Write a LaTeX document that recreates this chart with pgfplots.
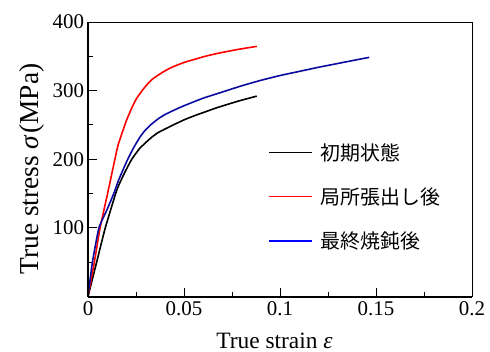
\documentclass[border=0pt]{standalone}
\usepackage{fontspec}
\setmainfont{Liberation Serif}
\newfontfamily\cjk{Noto Sans CJK JP}
\usepackage{pgfplots}
\pgfplotsset{compat=1.18}
\definecolor{cblue}{RGB}{10,10,160}
\begin{document}
\begin{tikzpicture}
\path[use as bounding box] (-88bp,-55.5bp) rectangle (402bp,296.5bp);
\begin{axis}[
  scale only axis,
  width=384bp, height=274.5bp,
  xmin=0, xmax=0.2, ymin=0, ymax=400,
  axis line style={line width=0.9bp},
  tick pos=left, tick align=inside,
  xtick={0,0.05,0.1,0.15,0.2},
  xticklabels={0,0.05,0.1,0.15,0.2},
  ytick={0,100,200,300,400},
  yticklabels={,100,200,300,400},
  minor x tick num=1, minor y tick num=1,
  major tick length=9bp, minor tick length=5bp,
  every tick/.style={line width=0.9bp, black},
  /pgf/number format/assume math mode=true,
  every tick label/.append style={font=\rmfamily\fontsize{21}{21}\selectfont},
  xticklabel style={yshift=-2bp},
  yticklabel style={xshift=-0.5bp},
  xlabel={True strain {\itshape ε}},
  ylabel={True stress {\itshape σ}\kern2bp(MPa)},
  xlabel style={font=\rmfamily\fontsize{23.5}{23.5}\selectfont, at={(axis description cs:0.4857,-0.1887)}, anchor=base},
  ylabel style={font=\rmfamily\fontsize{27.5}{27.5}\selectfont, at={(axis description cs:-0.130,0.4645)}, anchor=base, rotate=0},
  legend style={draw=none, fill=none, at={(axis description cs:0.461,0.3636)}, anchor=west,
    font=\fontsize{20}{20}\selectfont\cjk, nodes={inner sep=0pt}, column sep=8bp, row sep=26bp},
  legend cell align=left,
  legend image code/.code={\draw[#1] (0bp,0bp) -- (43bp,0bp);},
  after end axis/.code={
    \draw[line width=2.6bp] (rel axis cs:0,0) -- (rel axis cs:0,1);
    \draw[line width=2bp] (rel axis cs:0,0) -- (rel axis cs:1,0);
  },
]
\addplot[black, line width=1.6bp, forget plot, smooth, tension=0.3] coordinates {
(0,0) (0.0045,50) (0.0090,100) (0.0144,150) (0.0160,162) (0.0190,180) (0.0228,200) (0.0270,216) (0.0323,230) (0.0366,239) (0.0444,250) (0.0505,258) (0.0560,264) (0.0610,269) (0.0670,275) (0.0780,284.5) (0.0879,292)
};
\addplot[red, line width=1.6bp, forget plot, smooth, tension=0.3] coordinates {
(0,0) (0.0033,50) (0.0063,100) (0.0102,150) (0.0137,196) (0.0158,222) (0.0201,257) (0.0230,276) (0.0254,289) (0.0290,303) (0.0332,316) (0.0390,327) (0.0436,334) (0.0500,341) (0.0560,346) (0.0610,350) (0.0670,354) (0.0780,360) (0.0879,364.5)
};
\addplot[cblue, line width=1.6bp, forget plot, smooth, tension=0.3] coordinates {
(0,0) (0.0023,50) (0.0057,100) (0.0100,127) (0.0137,152) (0.0160,170) (0.0202,197) (0.0236,216) (0.0270,232) (0.0297,242) (0.0330,251) (0.0366,259) (0.0400,265) (0.0444,271) (0.0500,278) (0.0600,289) (0.0700,298) (0.0800,307) (0.0900,315) (0.1000,322) (0.1100,328) (0.1200,334) (0.1300,339.5) (0.1400,345) (0.1465,348.5)
};
\addlegendimage{black, line width=1.3bp}
\addlegendentry{初期状態}
\addlegendimage{red, line width=1.3bp}
\addlegendentry{局所張出し後}
\addlegendimage{blue, line width=1.3bp}
\addlegendentry{最終焼鈍後}
\end{axis}
\end{tikzpicture}
\end{document}
